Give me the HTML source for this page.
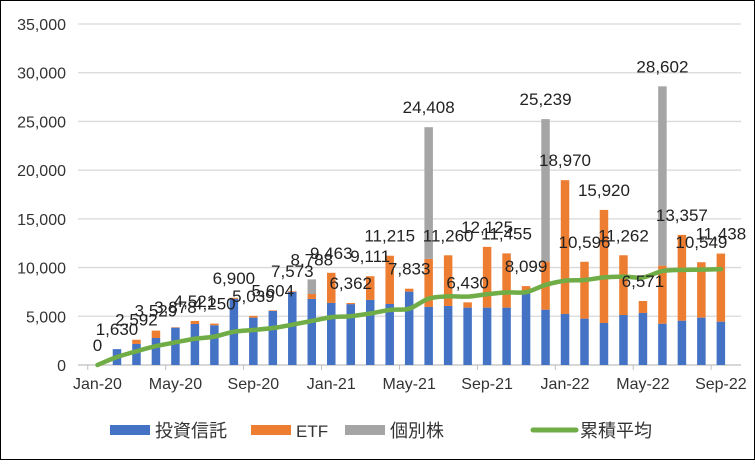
<!DOCTYPE html>
<html><head><meta charset="utf-8"><style>
body{margin:0;background:#fff}
svg text{font-family:"Liberation Sans","Noto Sans CJK JP",sans-serif}
</style></head><body>
<svg id="chart" width="755" height="461" viewBox="0 0 755 461" xmlns="http://www.w3.org/2000/svg">
<rect x="0.5" y="0.5" width="754" height="459" fill="#fff" stroke="#000" stroke-width="1"/>
<g id="grid"></g><g id="bars"></g><g id="line"></g><g id="labels"></g><g id="axes"></g>
<g id="legend">
<rect x="110" y="425" width="40" height="10" fill="#4472C4"/>
<text x="155" y="437" font-size="18" fill="#333">投資信託</text>
<rect x="251" y="425" width="40" height="10" fill="#ED7D31"/>
<text x="296" y="437" font-size="17" fill="#333">ETF</text>
<rect x="345" y="425" width="40" height="10" fill="#A5A5A5"/>
<text x="390" y="437" font-size="18" fill="#333">個別株</text>
<line x1="533" y1="430" x2="576" y2="430" stroke="#70AD47" stroke-width="5" stroke-linecap="round"/>
<text x="580" y="437" font-size="18" fill="#333">累積平均</text>
</g>
</svg>
<script>
const months=["Jan-20","Feb-20","Mar-20","Apr-20","May-20","Jun-20","Jul-20","Aug-20","Sep-20","Oct-20","Nov-20","Dec-20","Jan-21","Feb-21","Mar-21","Apr-21","May-21","Jun-21","Jul-21","Aug-21","Sep-21","Oct-21","Nov-21","Dec-21","Jan-22","Feb-22","Mar-22","Apr-22","May-22","Jun-22","Jul-22","Aug-22","Sep-22"];
const trust=[0,1630,2160,2770,3830,4210,4080,6800,4860,5540,7500,6780,6370,6250,6680,6260,7530,5960,6060,5890,5890,5890,7390,5680,5240,4760,4310,5130,5340,4240,4550,4860,4450];
const etf=[0,0,432,759,48,311,170,100,179,64,73,508,3093,112,2431,4955,303,4930,5200,540,6235,5565,709,4930,13730,5836,11610,6132,1231,5960,8807,5689,6988];
const stock=[0,0,0,0,0,0,0,0,0,0,0,1500,0,0,0,0,0,13518,0,0,0,0,0,14629,0,0,0,0,0,18402,0,0,0];
const totals=[0,1630,2592,3529,3878,4521,4250,6900,5039,5604,7573,8788,9463,6362,9111,11215,7833,24408,11260,6430,12125,11455,8099,25239,18970,10596,15920,11262,6571,28602,13357,10549,11438];
const cumAvg=[0,815,1407,1938,2326,2692,2914,3413,3593,3794,4138,4525,4905,5009,5283,5653,5782,6816,7050,7019,7262,7453,7481,8221,8651,8726,8992,9073,8987,9641,9761,9785,9835];
const yTicks=[0,5000,10000,15000,20000,25000,30000,35000];
const xTickLabels=["Jan-20","May-20","Sep-20","Jan-21","May-21","Sep-21","Jan-22","May-22","Sep-22"];

const NS="http://www.w3.org/2000/svg";
const X0=78,X1=741,Y0=365,Y1=24,YMAX=35000;
const step=19.48;
function x(i){return 97.5+step*i;}
function y(v){return Y0-(v/YMAX)*(Y0-Y1);}
function mk(tag,attrs,parent){const e=document.createElementNS(NS,tag);for(const k in attrs)e.setAttribute(k,attrs[k]);document.getElementById(parent).appendChild(e);return e;}
const fmt=v=>v.toLocaleString("en-US");

yTicks.forEach(t=>{
  const g=mk("line",{x1:X0,x2:X1,y1:y(t),y2:y(t),stroke:t===0?"#BFBFBF":"#D9D9D9","stroke-width":1.3},"grid");
  
  
  const tl=mk("text",{x:66,y:y(t)+6,"text-anchor":"end","font-size":16,fill:"#333"},"axes");
  tl.textContent=fmt(t);
  
  
});
xTickLabels.forEach((lab,k)=>{
  const i=months.indexOf(lab);
  const t=mk("text",{x:x(i),y:389,"text-anchor":"middle","font-size":16,fill:"#333"},"axes");
  t.textContent=lab;
  
  
  const tk=mk("line",{x1:x(i)-step/2,x2:x(i)-step/2,y1:Y0,y2:Y0+5,stroke:"#BFBFBF","stroke-width":1},"axes");
  
  
});
const bw=8.5;
months.forEach((m,i)=>{
  let base=0;
  [[trust,"#4472C4","bar-investment-trust"],[etf,"#ED7D31","bar-etf"],[stock,"#A5A5A5","bar-individual-stock"]].forEach(([arr,c,n])=>{
    const v=arr[i];
    if(v>0){
      const r=mk("rect",{x:x(i)-bw/2,y:y(base+v),width:bw,height:y(base)-y(base+v),fill:c},"bars");
      
      
    }
    base+=v;
  });
  const t=mk("text",{x:x(i),y:y(totals[i])-14,"text-anchor":"middle","font-size":17,fill:"#222"},"labels");
  t.textContent=fmt(totals[i]);
  
  
});
// smoothed line
const pts=cumAvg.map((v,i)=>[x(i),y(v)]);
let d="M"+pts[0][0]+","+pts[0][1];
for(let i=0;i<pts.length-1;i++){
  const p0=pts[Math.max(0,i-1)],p1=pts[i],p2=pts[i+1],p3=pts[Math.min(pts.length-1,i+2)];
  const t=0.16;
  const c1=[p1[0]+(p2[0]-p0[0])*t,p1[1]+(p2[1]-p0[1])*t];
  const c2=[p2[0]-(p3[0]-p1[0])*t,p2[1]-(p3[1]-p1[1])*t];
  d+=` C${c1[0]},${c1[1]} ${c2[0]},${c2[1]} ${p2[0]},${p2[1]}`;
}
const ln=mk("path",{d:d,fill:"none",stroke:"#70AD47","stroke-width":4.5,"stroke-linecap":"round"},"line");


</script>
</body></html>
